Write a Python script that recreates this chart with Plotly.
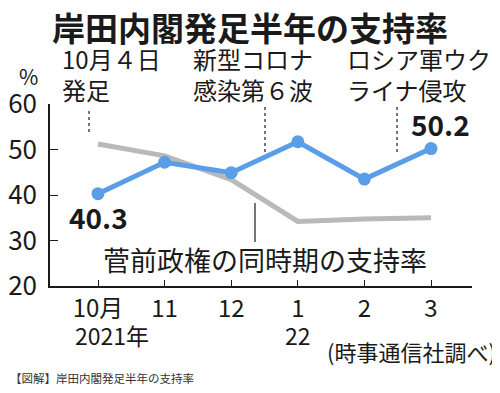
import plotly.graph_objects as go

months = ["10月", "11", "12", "1", "2", "3"]
kishida = [40.3, 47.2, 44.9, 51.7, 43.5, 50.2]
suga = [51.2, 48.6, 43.4, 34.2, 34.7, 35.0]
y_ticks = [20, 30, 40, 50, 60]

BLUE = "#5b9ee8"
GRAY = "#b9b9b9"
INK = "#1a1a1a"
JP = "Noto Sans CJK JP"

# page body has an 8px margin; work in reference pixels and shift
OFF = 8
W, H = 500 - OFF, 393 - OFF
L, R, T, B = 50 - OFF, 472 - OFF, 104 - OFF, 286 - OFF

def px(x):
    return (x - OFF - L) / (R - L)

def py(y):
    return (B - (y - OFF)) / (B - T)

xs = list(range(len(months)))

fig = go.Figure()
fig.add_trace(go.Scatter(x=xs, y=suga, mode="lines",
                         line=dict(color=GRAY, width=5), hoverinfo="skip"))
fig.add_trace(go.Scatter(x=xs, y=kishida, mode="lines+markers",
                         line=dict(color=BLUE, width=5),
                         marker=dict(color=BLUE, size=13), hoverinfo="skip"))

ann = []
def text(t, x, y, size, xanchor="center", bold=False, color=INK, align="left"):
    ann.append(dict(text=f"<b>{t}</b>" if bold else t, x=px(x), y=py(y),
                    xref="paper", yref="paper", showarrow=False,
                    xanchor=xanchor, yanchor="middle", align=align,
                    font=dict(family=JP, size=size, color=color)))

text("岸田内閣発足半年の支持率", 250, 27, 33, bold=True)
text("10月４日<br>発足", 60, 74, 24, xanchor="left")
text("新型コロナ<br>感染第６波", 191, 74, 24, xanchor="left")
text("ロシア軍ウク<br>ライナ侵攻", 345, 74, 24, xanchor="left")
text("%", 28, 76, 21)
text("菅前政権の同時期の支持率", 101, 259, 27, xanchor="left")
text("2021年", 112, 335, 23)
text("22", 298, 335, 23)
text("(時事通信社調べ)", 498, 351, 22, xanchor="right")
text("【図解】岸田内閣発足半年の支持率", 8, 378, 11.5, xanchor="left", color="#333333")

# value labels tied to data points
ann.append(dict(text=f"<b>{kishida[0]}</b>", x=xs[0], y=kishida[0], xref="x", yref="y",
                showarrow=False, yshift=-23, xshift=0,
                font=dict(family=JP, size=28, color=INK)))
ann.append(dict(text=f"<b>{kishida[-1]}</b>", x=xs[-1], y=kishida[-1], xref="x", yref="y",
                showarrow=False, yshift=25, xshift=9,
                font=dict(family=JP, size=28, color=INK)))

shapes = []
def vline(x, y0, y1, dash):
    shapes.append(dict(type="line", xref="paper", yref="paper",
                       x0=px(x), x1=px(x), y0=py(y0), y1=py(y1),
                       line=dict(color=INK, width=1.2, dash=dash)))

vline(89, 111, 135, "3px,3px")
vline(265, 107, 152, "3px,3px")
vline(397, 107, 152, "3px,3px")
vline(255, 203, 242, "solid")

fig.update_layout(
    width=W, height=H,
    margin=dict(l=L, r=W - R, t=T, b=H - B, pad=0, autoexpand=False),
    paper_bgcolor="white", plot_bgcolor="white",
    showlegend=False,
    annotations=ann, shapes=shapes,
    xaxis=dict(range=[(50 - 98) / 66.6, (472 - 98) / 66.6], tickvals=xs, ticktext=months,
               automargin=False,
               showgrid=False, zeroline=False, showline=True, linecolor=INK, linewidth=1.5,
               ticks="inside", ticklen=6, tickcolor=INK, tickwidth=1.2,
               tickfont=dict(family=JP, size=24, color=INK), fixedrange=True),
    yaxis=dict(range=[20, 60], tickvals=y_ticks, showgrid=False, zeroline=False,
               automargin=False,
               showline=True, linecolor=INK, linewidth=1.5,
               ticks="inside", ticklen=8, tickcolor=INK, tickwidth=1.2,
               ticklabelstandoff=6,
               tickfont=dict(family=JP, size=26, color=INK), fixedrange=True),
)

fig.write_html("out.html")
